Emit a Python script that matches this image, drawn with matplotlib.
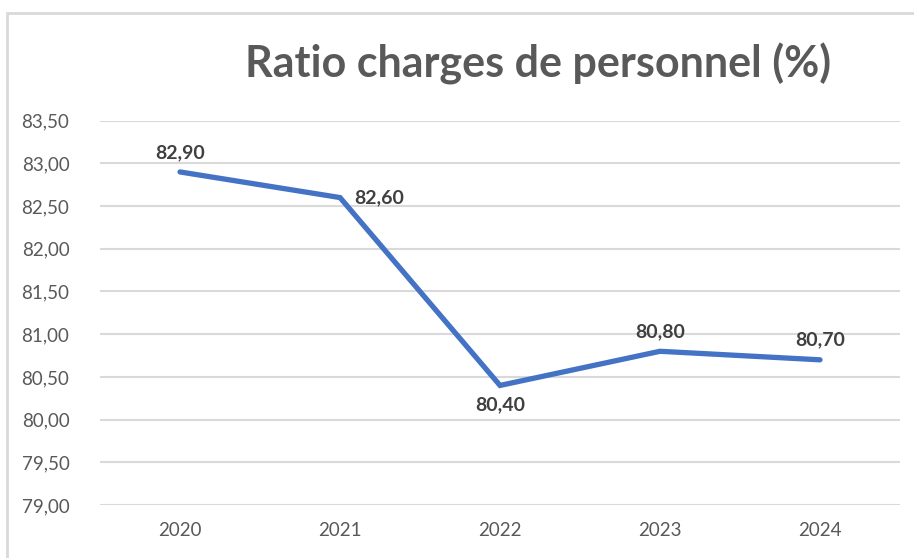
import matplotlib.pyplot as plt
from matplotlib.patches import Rectangle

# Data
years = ['2020', '2021', '2022', '2023', '2024']
ratio = [82.90, 82.60, 80.40, 80.80, 80.70]
label_pos = ['above', 'right', 'below', 'above', 'above']

plt.rcParams['font.family'] = ['Lato', 'DejaVu Sans']

fig = plt.figure(figsize=(9.14, 5.58), dpi=100)
ax = fig.add_axes([100 / 914, 1 - 505 / 558, 800 / 914, (505 - 120.7) / 558])

# chart frame
fig.patches.append(Rectangle((6.5 / 914, -0.1), 1.2, 1 - 13.5 / 558 + 0.1,
                             transform=fig.transFigure, fill=False,
                             edgecolor='#D9D9D9', linewidth=2))

x = range(len(years))
ax.plot(x, ratio, color='#4472C4', linewidth=3.8, solid_capstyle='round',
        solid_joinstyle='miter', zorder=3)

lab_kw = dict(textcoords='offset points', fontsize=14, fontweight='bold', color='#404040')
for i, v in enumerate(ratio):
    txt = f'{v:.2f}'.replace('.', ',')
    if label_pos[i] == 'above':
        ax.annotate(txt, (i, v), xytext=(0, 8), ha='center', va='bottom', **lab_kw)
    elif label_pos[i] == 'below':
        ax.annotate(txt, (i, v), xytext=(0, -8), ha='center', va='top', **lab_kw)
    else:
        ax.annotate(txt, (i, v), xytext=(10, 0), ha='left', va='center', **lab_kw)

ax.set_xlim(-0.5, len(years) - 0.5)
ax.set_ylim(79, 83.5)
yt = [79 + 0.5 * k for k in range(10)]
ax.set_yticks(yt)
ax.set_yticklabels([f'{t:.2f}'.replace('.', ',') for t in yt])
ax.set_xticks(list(x))
ax.set_xticklabels(years)
ax.tick_params(axis='both', length=0, labelsize=13.5, labelcolor='#595959')
ax.tick_params(axis='y', pad=22)
ax.tick_params(axis='x', pad=12)

ax.yaxis.grid(True, color='#D9D9D9', linewidth=1.5)
ax.set_axisbelow(True)
for s in ax.spines.values():
    s.set_visible(False)

fig.text(538 / 914, 1 - 64 / 558, 'Ratio charges de personnel (%)', ha='center', va='center',
         fontsize=31, fontweight='bold', color='#595959')

fig.savefig('out.png', dpi=100)
